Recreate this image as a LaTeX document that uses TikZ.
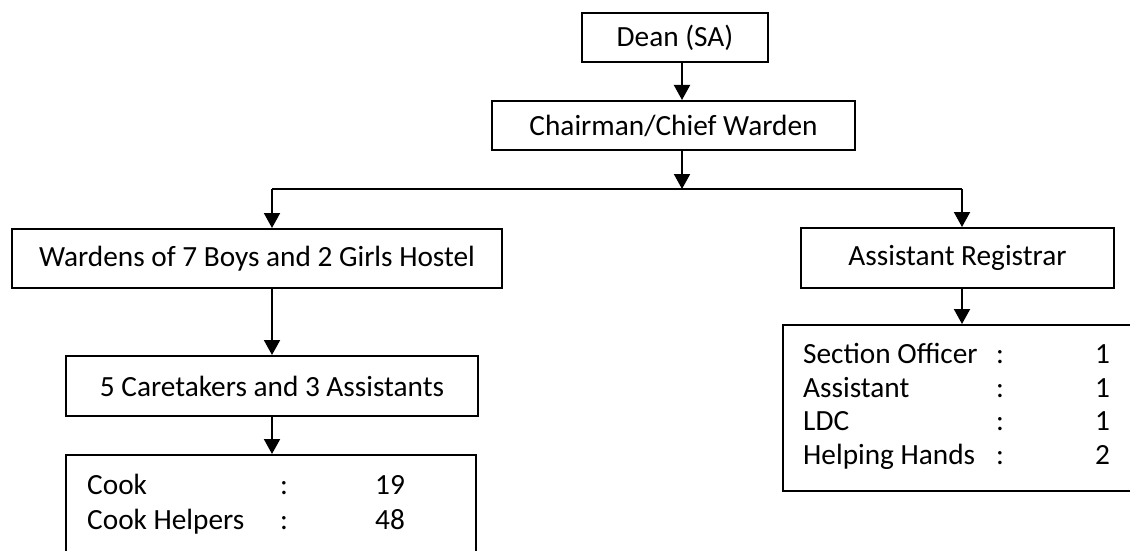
\documentclass[tikz,border=0pt]{standalone}
\usepackage{fontspec}
\setmainfont{Carlito}
\usetikzlibrary{arrows.meta}
\begin{document}
\begin{tikzpicture}[x=1pt,y=-1pt,
  box/.style={draw=black,line width=2pt,inner sep=0pt,rectangle},
  arr/.style={line width=2pt,-{Triangle[length=15pt,width=16pt]}},
  conn/.style={line width=2pt},
  txt/.style={inner sep=0pt,anchor=base west},
  every node/.append style={font=\fontsize{29.3}{35}\selectfont}]
\useasboundingbox (0,0) rectangle (1130,551);
\clip (0,0) rectangle (1130,551);
% boxes
\node[box,minimum width=186pt,minimum height=49pt] (dean) at (675,37.5) {Dean (SA)};
\node[box,minimum width=363pt,minimum height=49pt] (chair) at (673.5,125.5) {Chairman/Chief Warden};
\node[box,minimum width=490pt,minimum height=59pt] (ward) at (257,258.5) {Wardens of 7 Boys and 2 Girls Hostel};
\node[box,minimum width=412pt,minimum height=60pt] (care) at (272,386) {5 Caretakers and 3 Assistants};
\node[box,minimum width=410pt,minimum height=140pt] (cook) at (271,525) {};
\node[box,minimum width=313pt,minimum height=60pt] (ar) at (957.5,258) {Assistant Registrar};
\node[box,minimum width=360pt,minimum height=166pt] (staff) at (963,408) {};
% cook table
\node[txt] (c1a) at (87,494.5) {Cook};
\node[txt] (c1b) at (280,494.5) {:};
\node[txt] (c1c) at (375,494.5) {19};
\node[txt] (c2a) at (87,529.5) {Cook Helpers};
\node[txt] (c2b) at (280,529.5) {:};
\node[txt] (c2c) at (375,529.5) {48};
% staff table
\node[txt] (s1a) at (803,363.5) {Section Officer};
\node[txt] (s1b) at (996,363.5) {:};
\node[txt] (s1c) at (1095,363.5) {1};
\node[txt] (s2a) at (803,397) {Assistant};
\node[txt] (s2b) at (996,397) {:};
\node[txt] (s2c) at (1095,397) {1};
\node[txt] (s3a) at (803,430.5) {LDC};
\node[txt] (s3b) at (996,430.5) {:};
\node[txt] (s3c) at (1095,430.5) {1};
\node[txt] (s4a) at (803,464) {Helping Hands};
\node[txt] (s4b) at (996,464) {:};
\node[txt] (s4c) at (1095,464) {2};
% connectors
\coordinate (ax) at (682,0);
\coordinate (bl) at (272,189);
\coordinate (br) at (962,189);
\draw[arr] (dean.south -| ax) -- (chair.north -| ax);
\draw[arr] (chair.south -| ax) -- (ax |- bl);
\draw[conn] (bl) -- (br);
\draw[arr] (bl) -- (ward.north -| bl);
\draw[arr] (br) -- (ar.north -| br);
\draw[arr] (ward.south -| bl) -- (care.north -| bl);
\draw[arr] (care.south -| bl) -- (cook.north -| bl);
\draw[arr] (ar.south -| br) -- (staff.north -| br);
\end{tikzpicture}
\end{document}
